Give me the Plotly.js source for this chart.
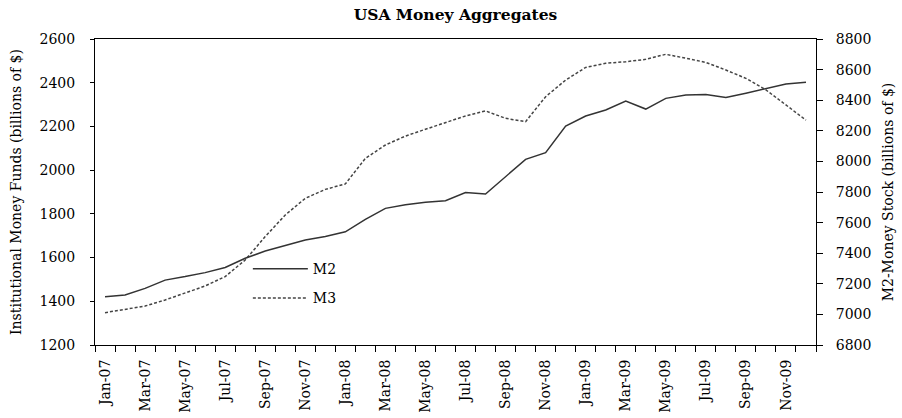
<!DOCTYPE html>
<html>
<head>
<meta charset="utf-8">
<script src="https://cdn.plot.ly/plotly-3.0.1.min.js"></script>
<style>html,body{margin:0;padding:0;background:#fff;}#chart{width:902px;height:418px;}</style>
</head>
<body>
<div id="chart"></div>
<script>
const categories = ["Jan-07","Feb-07","Mar-07","Apr-07","May-07","Jun-07","Jul-07","Aug-07","Sep-07","Oct-07","Nov-07","Dec-07",
  "Jan-08","Feb-08","Mar-08","Apr-08","May-08","Jun-08","Jul-08","Aug-08","Sep-08","Oct-08","Nov-08","Dec-08",
  "Jan-09","Feb-09","Mar-09","Apr-09","May-09","Jun-09","Jul-09","Aug-09","Sep-09","Oct-09","Nov-09","Dec-09"];
const tickLabels = ["Jan-07","","Mar-07","","May-07","","Jul-07","","Sep-07","","Nov-07","",
  "Jan-08","","Mar-08","","May-08","","Jul-08","","Sep-08","","Nov-08","",
  "Jan-09","","Mar-09","","May-09","","Jul-09","","Sep-09","","Nov-09",""];
// M2 money stock (right axis, billions of $)
const m2 = [7116,7127,7170,7224,7247,7273,7307,7367,7414,7449,7486,7509,
  7540,7621,7693,7716,7733,7743,7796,7787,7900,8013,8057,8231,
  8297,8336,8395,8342,8412,8434,8438,8417,8445,8478,8506,8517];
// Institutional money funds (left axis, billions of $)
const m3 = [1348,1363,1378,1406,1437,1470,1513,1589,1696,1795,1871,1912,
  1937,2054,2115,2156,2187,2217,2248,2271,2237,2222,2336,2412,
  2470,2489,2496,2507,2530,2512,2493,2458,2420,2367,2298,2229];

const serif = "DejaVu Serif, Liberation Serif, serif";
const traces = [
  {x: categories, y: m2, name: "M2", yaxis: "y2", type: "scatter", mode: "lines",
   legendgroup: "a", line: {color: "#333333", width: 1.5}},
  {x: categories, y: m3, name: "M3", yaxis: "y", type: "scatter", mode: "lines",
   legendgroup: "b", line: {color: "#444444", width: 1.5, dash: "3px,2px"}}
];
const layout = {
  width: 902, height: 418,
  margin: {l: 95, r: 86, t: 39, b: 73},
  paper_bgcolor: "#fff", plot_bgcolor: "#fff",
  font: {family: serif, size: 14, color: "#000"},
  title: {text: "<b>USA Money Aggregates</b>", font: {family: serif, size: 15.5, color: "#000"},
          x: 0.5, xref: "paper", y: 0.966, yref: "container", yanchor: "middle"},
  showlegend: true,
  legend: {x: 0.212, y: 0.30, xanchor: "left", yanchor: "top", bgcolor: "rgba(0,0,0,0)",
           itemwidth: 55, traceorder: "grouped", tracegroupgap: 8,
           font: {family: serif, size: 14, color: "#000"}},
  xaxis: {type: "category", range: [-0.5, 35.5], tickmode: "array", tickvals: categories, ticktext: tickLabels,
          tickson: "boundaries", ticks: "outside", ticklen: 6, tickcolor: "#000", tickangle: -90,
          ticklabelstandoff: 8,
          showline: true, linecolor: "#000", linewidth: 1, mirror: true, showgrid: false, zeroline: false,
          tickfont: {family: serif, size: 14, color: "#000"}},
  yaxis: {range: [1200, 2600], dtick: 200, ticks: "outside", ticklen: 4, tickcolor: "#000",
          showline: true, linecolor: "#000", linewidth: 1, showgrid: false, zeroline: false,
          ticklabelstandoff: 12,
          title: {text: "Institutional Money Funds (billions of $)", font: {family: serif, size: 14, color: "#000"}, standoff: 14},
          tickfont: {family: serif, size: 14, color: "#000"}},
  yaxis2: {range: [6800, 8800], dtick: 200, overlaying: "y", side: "right", ticks: "outside", ticklen: 6, tickcolor: "#000",
          showline: true, linecolor: "#000", linewidth: 1, showgrid: false, zeroline: false,
          ticklabelstandoff: 10,
          title: {text: "M2-Money Stock (billions of $)", font: {family: serif, size: 14, color: "#000"}, standoff: 12},
          tickfont: {family: serif, size: 14, color: "#000"}}
};
Plotly.newPlot("chart", traces, layout, {displayModeBar: false, staticPlot: true});
</script>
</body>
</html>
